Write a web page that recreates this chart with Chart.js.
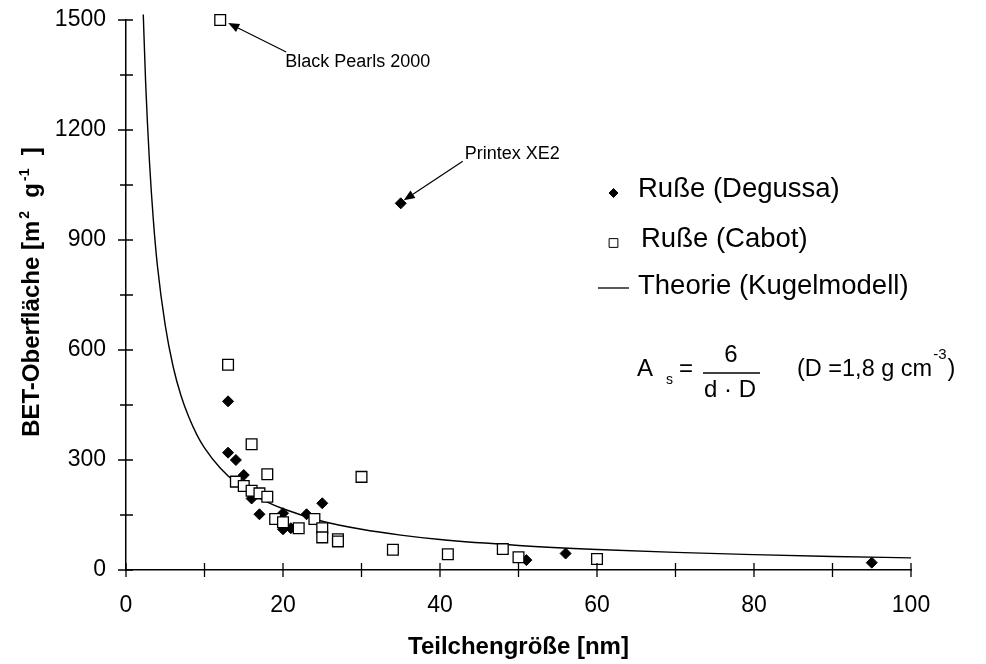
<!doctype html>
<html lang="de">
  <head>
    <meta charset="utf-8">
    <title>BET-Oberfläche vs. Teilchengröße</title>
    <script src="https://cdn.jsdelivr.net/npm/chart.js@4.4.1/dist/chart.umd.min.js"></script>
    <style>
      body { margin: 0; background: #fff; }
      #wrap { width: 986px; height: 664px; position: relative; }
    </style>
  </head>
  <body>
    <div id="wrap"><canvas id="chart"></canvas></div>
    <script>
      // Ruße (Degussa) - particle size [nm] / BET surface [m2/g]
      const degussaX = [13, 13, 14, 15, 16, 17, 20, 20, 21, 23, 25, 35, 51, 56, 95];
      const degussaY = [460, 320, 300, 259, 195, 152, 155, 111, 114, 152, 182, 1000, 27, 45, 20];

      // Ruße (Cabot)
      const cabotX = [12, 13, 16, 18, 30, 14, 15, 16, 17, 18, 19, 20, 22, 24, 25, 25, 27, 27, 34, 41, 48, 50, 60];
      const cabotY = [1500, 560, 343, 261, 254, 241, 229, 216, 209, 200, 139, 130, 114, 139, 114, 89, 84, 78, 55, 43, 57, 35, 30];

      // Theorie (Kugelmodell)
      const theoryX = [2.2, 2.5, 3, 3.5, 4, 5, 6, 7, 8, 9, 10, 12, 14, 16, 18, 20, 25, 30, 35, 40, 50, 60, 70, 80, 90, 100];
      const theoryY = [1515, 1330, 1110, 950, 830, 667, 555, 476, 417, 370, 333, 278, 238, 208, 185, 167, 133, 111, 95, 83, 67, 56, 48, 42, 37, 33];

      // annotated samples
      const notes = [
        { text: 'Black Pearls 2000', x: 12, y: 1500 },
        { text: 'Printex XE2', x: 35, y: 1000 }
      ];

      const xTicks = { min: 0, max: 100, step: 20, minor: 10 };
      const yTicks = { min: 0, max: 1500, step: 300, minor: 150 };

      const FONT = '"Liberation Sans", Arial, sans-serif';
      Chart.defaults.font.family = FONT;
      Chart.defaults.color = '#000';

      const pts = (xs, ys) => xs.map((v, i) => ({ x: v, y: ys[i] }));

      const arrow = (ctx, x1, y1, x2, y2) => {
        const ang = Math.atan2(y2 - y1, x2 - x1);
        const hl = 11, hw = 4.5;
        const bx = x2 - Math.cos(ang) * hl, by = y2 - Math.sin(ang) * hl;
        ctx.beginPath();
        ctx.moveTo(x1, y1);
        ctx.lineTo(bx, by);
        ctx.stroke();
        ctx.beginPath();
        ctx.moveTo(x2, y2);
        ctx.lineTo(bx + Math.sin(ang) * hw, by - Math.cos(ang) * hw);
        ctx.lineTo(bx - Math.sin(ang) * hw, by + Math.cos(ang) * hw);
        ctx.closePath();
        ctx.fill();
      };

      const overlay = {
        id: 'overlay',
        afterDraw(chart) {
          const { ctx, chartArea: a, scales: { x, y } } = chart;
          ctx.save();
          ctx.strokeStyle = '#000';
          ctx.fillStyle = '#000';
          ctx.lineWidth = 1.3;

          // tick marks crossing the axes
          ctx.beginPath();
          for (let v = xTicks.min; v <= xTicks.max; v += xTicks.minor) {
            const px = x.getPixelForValue(v);
            ctx.moveTo(px, a.bottom - 7);
            ctx.lineTo(px, a.bottom + 7);
          }
          for (let v = yTicks.min; v <= yTicks.max; v += yTicks.minor) {
            const py = y.getPixelForValue(v);
            const major = v % yTicks.step === 0;
            ctx.moveTo(a.left - (major ? 8 : 6), py);
            ctx.lineTo(a.left + 7, py);
          }
          ctx.stroke();

          // axis titles
          ctx.font = 'bold 24px ' + FONT;
          ctx.textAlign = 'center';
          ctx.textBaseline = 'middle';
          ctx.fillText('Teilchengröße [nm]', (a.left + a.right) / 2, 647);

          const parts = [
            ['BET-Oberfläche [m', 0], ['2', 1], ['  g', 0], ['-1', 1], ['  ]', 0]
          ];
          const big = 'bold 24px ' + FONT, small = 'bold 14px ' + FONT;
          let total = 0;
          parts.forEach(p => { ctx.font = p[1] ? small : big; total += ctx.measureText(p[0]).width + (p[1] ? 2 : 0); });
          ctx.save();
          ctx.translate(30, 292);
          ctx.rotate(-Math.PI / 2);
          ctx.textAlign = 'left';
          ctx.textBaseline = 'alphabetic';
          let cx = -total / 2;
          parts.forEach(p => {
            ctx.font = p[1] ? small : big;
            if (p[1]) cx += 2;
            ctx.fillText(p[0], cx, p[1] ? -1 : 9);
            cx += ctx.measureText(p[0]).width;
          });
          ctx.restore();

          // annotations with arrows
          ctx.lineWidth = 1.2;
          ctx.font = '18px ' + FONT;
          ctx.textAlign = 'left';
          ctx.textBaseline = 'middle';
          const bp = notes[0], px1 = x.getPixelForValue(bp.x), py1 = y.getPixelForValue(bp.y);
          arrow(ctx, px1 + 66, py1 + 32, px1 + 8, py1 + 3);
          ctx.fillText(bp.text, px1 + 65, py1 + 42);
          const pr = notes[1], px2 = x.getPixelForValue(pr.x), py2 = y.getPixelForValue(pr.y);
          arrow(ctx, px2 + 62, py2 - 42, px2 + 3, py2 - 3);
          ctx.fillText(pr.text, px2 + 64, py2 - 49);

          // legend inside the plot
          const ds = chart.data.datasets;
          const rows = [193, 243, 290];
          ds.forEach((d, i) => {
            const ry = rows[i];
            if (d.showLine) {
              ctx.lineWidth = 1.3;
              ctx.beginPath();
              ctx.moveTo(598, ry - 2);
              ctx.lineTo(629, ry - 2);
              ctx.stroke();
            } else {
              ctx.fillStyle = d.backgroundColor;
              ctx.strokeStyle = '#000';
              ctx.lineWidth = 1;
              Chart.helpers.drawPoint(ctx, {
                pointStyle: d.pointStyle, radius: d.pointStyle === 'rect' ? 6.2 : 4.5,
                borderWidth: 1
              }, 613.5, ry);
              ctx.fillStyle = '#000';
            }
            ctx.font = '27.5px ' + FONT;
            ctx.textBaseline = 'middle';
            ctx.fillText(d.label, d.pointStyle === 'rect' ? 641 : 638, ry - 4);
          });

          // formula
          ctx.textBaseline = 'alphabetic';
          ctx.font = '24px ' + FONT;
          ctx.fillText('A', 637, 376);
          ctx.font = '14px ' + FONT;
          ctx.fillText('s', 666, 384);
          ctx.font = '24px ' + FONT;
          ctx.fillText('=', 679, 376);
          ctx.textAlign = 'center';
          ctx.fillText('6', 731, 362);
          ctx.fillText('d · D', 730, 397);
          ctx.lineWidth = 1.3;
          ctx.beginPath();
          ctx.moveTo(703, 373);
          ctx.lineTo(760, 373);
          ctx.stroke();
          ctx.textAlign = 'left';
          ctx.font = '23.5px ' + FONT;
          ctx.fillText('(D =1,8 g cm', 797, 376);
          const w = ctx.measureText('(D =1,8 g cm').width;
          ctx.font = '15px ' + FONT;
          ctx.fillText('-3', 797 + w + 1, 359);
          const w2 = ctx.measureText('-3').width;
          ctx.font = '23.5px ' + FONT;
          ctx.fillText(')', 797 + w + w2 + 2, 376);
          ctx.restore();
        }
      };

      const ctx = document.getElementById('chart').getContext('2d');
      const myChart = new Chart(ctx, {
        type: 'scatter',
        data: {
          datasets: [
            {
              label: 'Ruße (Degussa)',
              data: pts(degussaX, degussaY),
              pointStyle: 'rectRot',
              pointRadius: 5.5,
              backgroundColor: '#000',
              borderColor: '#000',
              borderWidth: 1,
              clip: 10,
              order: 2
            },
            {
              label: 'Ruße (Cabot)',
              data: pts(cabotX, cabotY),
              pointStyle: 'rect',
              pointRadius: 7.6,
              backgroundColor: '#fff',
              borderColor: '#000',
              borderWidth: 1.3,
              clip: 10,
              order: 1
            },
            {
              label: 'Theorie (Kugelmodell)',
              data: pts(theoryX, theoryY),
              showLine: true,
              pointRadius: 0,
              borderColor: '#000',
              borderWidth: 1.4,
              cubicInterpolationMode: 'monotone',
              clip: false,
              order: 3
            }
          ]
        },
        options: {
          responsive: true,
          maintainAspectRatio: false,
          animation: false,
          layout: { padding: { left: 0, right: 75, top: 20, bottom: 0 } },
          plugins: { legend: { display: false }, tooltip: { enabled: false } },
          scales: {
            x: {
              type: 'linear',
              min: xTicks.min,
              max: xTicks.max,
              afterFit: s => { s.height = 94; s.paddingLeft = 0; s.paddingRight = 0; },
              grid: { display: false, drawTicks: false },
              border: { display: true, color: '#000', width: 1.5 },
              ticks: { stepSize: xTicks.step, padding: 22, color: '#000', font: { size: 23 } }
            },
            y: {
              min: yTicks.min,
              max: yTicks.max,
              afterFit: s => { s.width = 126; s.paddingTop = 0; s.paddingBottom = 0; },
              grid: { display: false, drawTicks: false },
              border: { display: true, color: '#000', width: 1.5 },
              ticks: {
                stepSize: yTicks.step, padding: 20, color: '#000', font: { size: 23 },
                callback: v => String(v)
              }
            }
          }
        },
        plugins: [overlay]
      });
    </script>
  </body>
</html>
